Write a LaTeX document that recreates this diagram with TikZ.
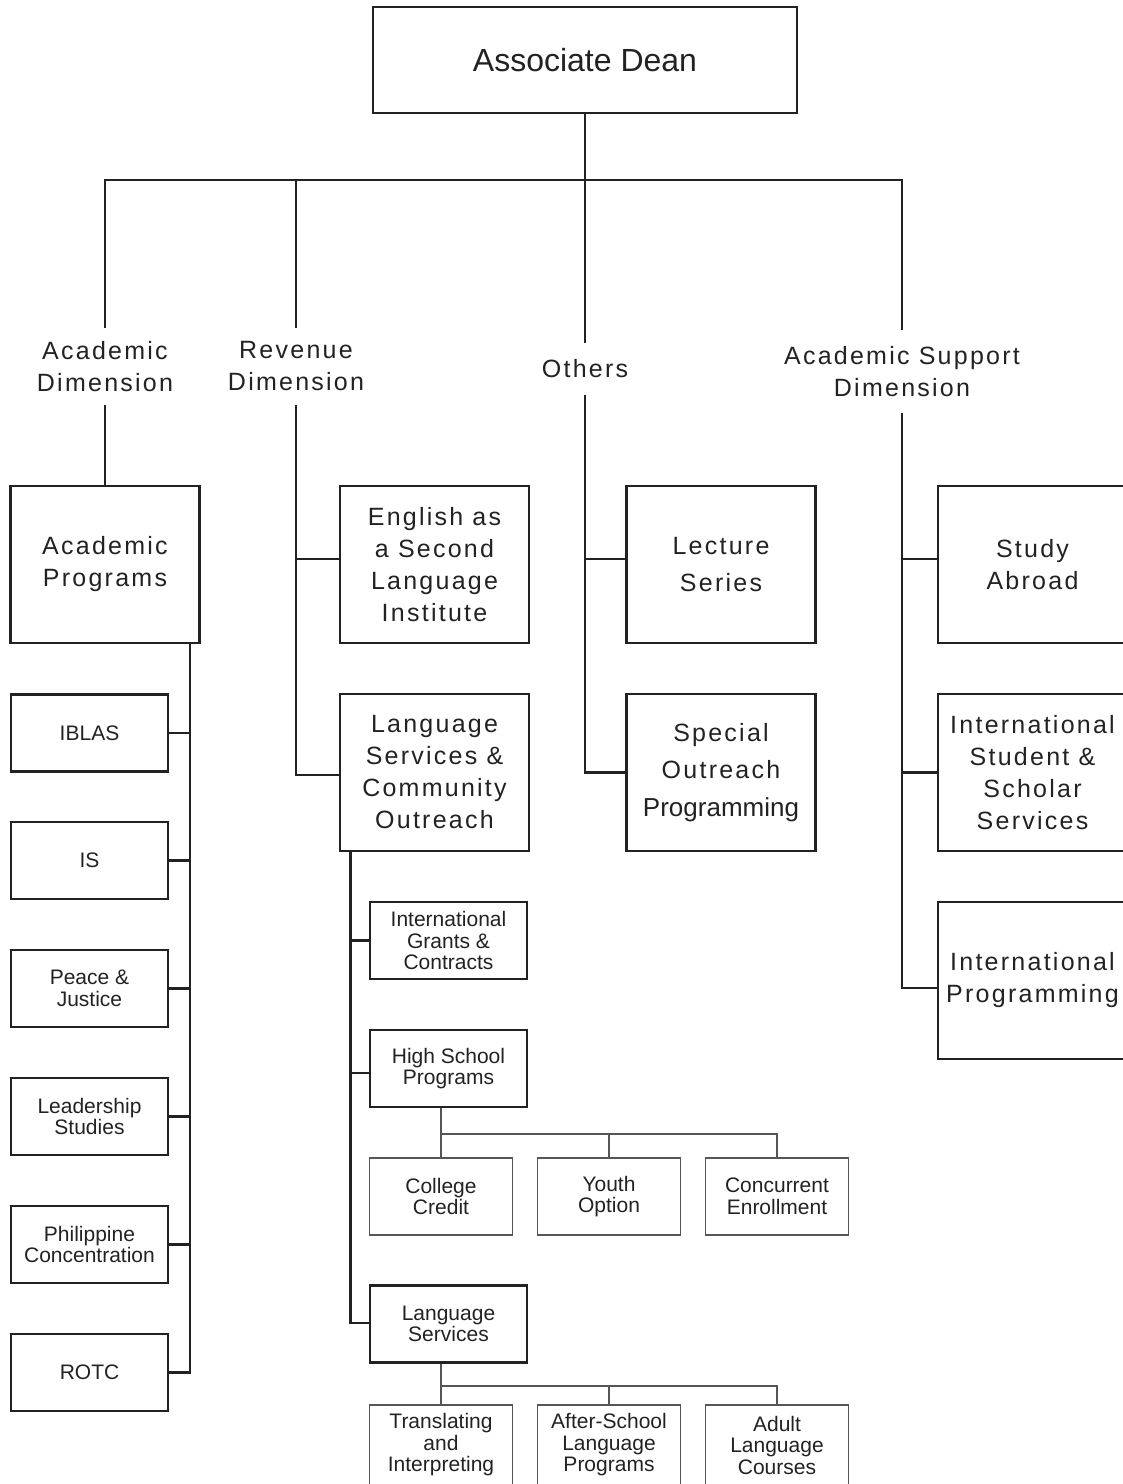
\documentclass[tikz,border=0pt]{standalone}
\usepackage{fontspec}
\setmainfont{Liberation Sans}
\newfontfamily\spaced[LetterSpace=9]{Liberation Sans}
\usetikzlibrary{calc}
\definecolor{ink}{HTML}{222222}
\definecolor{soft}{HTML}{555555}
\begin{document}
\begin{tikzpicture}[x=1pt,y=-1pt,
  every node/.style={inner sep=0pt, align=center, text=ink},
  bigbox/.style={draw=ink, line width=2.8pt, minimum width=189, minimum height=157,
    font=\spaced\fontsize{25}{32}\selectfont},
  smallbox/.style={draw=ink, line width=2.6pt, minimum width=157, minimum height=77,
    font=\fontsize{21}{21.5}\selectfont},
  greybox/.style={draw=soft, line width=1.7pt, minimum width=143, minimum height=77,
    font=\fontsize{21}{21.5}\selectfont},
  dimlabel/.style={font=\spaced\fontsize{25}{32}\selectfont},
  link/.style={draw=ink, line width=2.5pt},
  thin/.style={draw=soft, line width=1.7pt}]
\useasboundingbox (0,0) rectangle (1123,1484);
\clip (0,0) rectangle (1123,1484);

% top of the chart
\node[draw=ink, line width=2.8pt, minimum width=424, minimum height=106,
  font=\fontsize{32}{38}\selectfont] (dean) at (585,60) {Associate Dean};
\coordinate (bus) at (0,180);

% the four dimensions
\node[dimlabel, minimum height=77] (dimA) at (105,366.5) {Academic\\Dimension};
\node[dimlabel, minimum height=77] (dimR) at (296,366.5) {Revenue\\Dimension};
\node[dimlabel, minimum height=52] (dimO) at (585,369) {Others};
\node[dimlabel, minimum height=83] (dimS) at (902,371.5) {Academic Support\\Dimension};

\draw[link] (dean.south) -- (dimO.north);
\draw[link] (dimA.north) |- (dimS.north |- bus) -- (dimS.north);
\draw[link] (dimR.north) -- (dimR.north |- bus);

% academic dimension
\node[bigbox] (ap) at (105,564.5) {Academic\\Programs};
\draw[link] (dimA.south) -- (ap.north);
\node[smallbox] (iblas) at (89.5,733) {IBLAS};
\node[smallbox] (is) at (89.5,860.5) {IS};
\node[smallbox] (pj) at (89.5,988.5) {Peace \&\\Justice};
\node[smallbox] (lead) at (89.5,1116.5) {Leadership\\Studies};
\node[smallbox] (phil) at (89.5,1244.5) {Philippine\\Concentration};
\node[smallbox] (rotc) at (89.5,1372.5) {ROTC};
\coordinate (apspine) at ([xshift=-11]ap.south east);
\draw[link] (apspine) |- (rotc.east);
\foreach \n in {iblas,is,pj,lead,phil}
  \draw[link] (\n.east) -- (\n.east -| apspine);

% revenue dimension
\node[bigbox] (esl) at (434.5,564.5) {English as\\a Second\\Language\\Institute};
\node[bigbox] (lsco) at (434.5,772.5) {Language\\Services \&\\Community\\Outreach};
\draw[link] (dimR.south) |- ([yshift=-2.5]lsco.west);
\draw[link] ([yshift=5.5]esl.west) -- ([yshift=5.5]esl.west -| dimR.south);

\node[smallbox] (igc) at (448.5,940.5) {International\\Grants \&\\Contracts};
\node[smallbox] (hs) at (448.5,1068.5) {High School\\Programs};
\node[smallbox] (ls) at (448.5,1324) {Language\\Services};
\coordinate (lsspine) at ([xshift=12]lsco.south west);
\draw[link] (lsspine) |- ([yshift=1]ls.west);
\draw[link] (igc.west) -- (igc.west -| lsspine);
\draw[link] ([yshift=-4.5]hs.west) -- ([yshift=-4.5]hs.west -| lsspine);

% high school programs
\node[greybox] (cc) at (441,1196.5) {College\\Credit};
\node[greybox] (yo) at (609,1196.5) {Youth\\Option};
\node[greybox] (ce) at (777,1196.5) {Concurrent\\Enrollment};
\coordinate (hsbus) at (0,1134);
\draw[thin] (cc.north |- hs.south) -- (cc.north);
\draw[thin] (cc.north |- hsbus) -| (ce.north);
\draw[thin] (yo.north) -- (yo.north |- hsbus);

% language services
\node[greybox, minimum height=80] (ti) at (441,1445) {Translating\\and\\Interpreting};
\node[greybox, minimum height=80] (asl) at (609,1445) {After-School\\Language\\Programs};
\node[greybox, minimum height=80] (alc) at (777,1445) {Adult\\Language\\Courses};
\coordinate (lsbus) at (0,1386);
\draw[thin] (ti.north |- ls.south) -- (ti.north);
\draw[thin] (ti.north |- lsbus) -| (alc.north);
\draw[thin] (asl.north) -- (asl.north |- lsbus);

% others
\node[bigbox, font=\spaced\fontsize{25}{37}\selectfont] (lec) at (721,564.5) {Lecture\\Series};
\node[bigbox, font=\spaced\fontsize{25}{37.5}\selectfont] (sop) at (721,772.5)
  {Special\\Outreach\\{\fontspec{Liberation Sans}\fontsize{26}{37.5}\selectfont Programming}};
\draw[link] (dimO.south) |- (sop.west);
\draw[link] ([yshift=5.5]lec.west) -- ([yshift=5.5]lec.west -| dimO.south);

% academic support dimension
\node[bigbox] (sa) at (1032.5,564.5) {Study\\Abroad};
\node[bigbox] (isss) at (1032.5,772.5) {International\\Student \&\\Scholar\\Services};
\node[bigbox] (ip) at (1032.5,980.5) {International\\Programming};
\draw[link] (dimS.south) |- ([yshift=-7.5]ip.west);
\draw[link] ([yshift=5.5]sa.west) -- ([yshift=5.5]sa.west -| dimS.south);
\draw[link] (isss.west) -- (isss.west -| dimS.south);
\end{tikzpicture}
\end{document}
